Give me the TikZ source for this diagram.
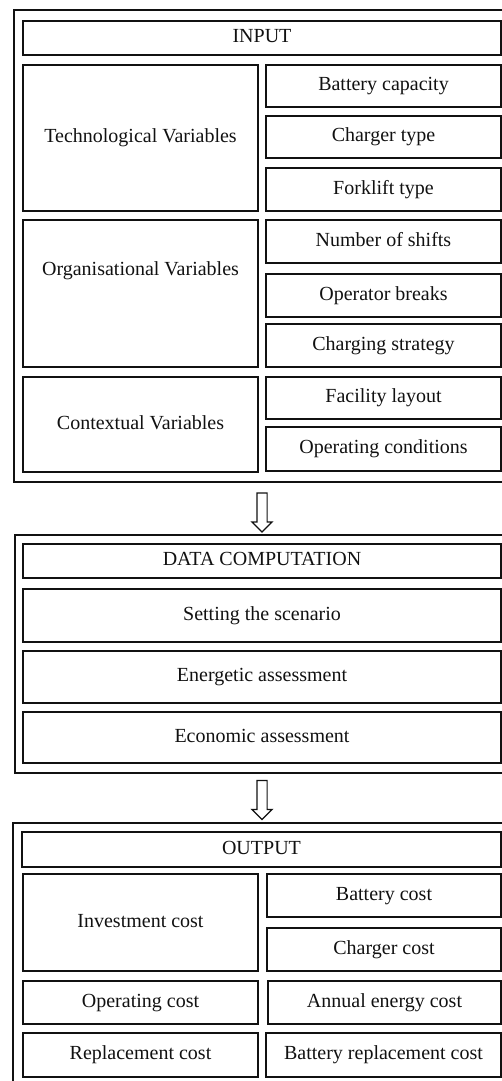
\documentclass[tikz,border=0pt]{standalone}
\usepackage{fontspec}
\setmainfont{Liberation Serif}
\usetikzlibrary{shapes.arrows}
\definecolor{ink}{HTML}{111111}

\tikzset{
  frame/.style={ink,line width=1.8pt},
  cell/.style={draw=ink,line width=1.6pt,inner sep=0pt,text=ink,
    font=\fontsize{20}{24}\selectfont,text height=14pt,text depth=4.5pt},
  downarrow/.style={draw=ink,line width=1.2pt,shape=single arrow,rotate=-90,
    minimum height=39pt,inner xsep=0pt,inner ysep=4.5pt,
    single arrow head extend=5pt,single arrow tip angle=90},
}

\begin{document}
\begin{tikzpicture}[x=1pt,y=-1pt]
  \useasboundingbox (0,0) rectangle (502,1081);
  \clip (0,0) rectangle (502,1081);
  \draw[frame] (14,10) rectangle (512,482);
  \draw[frame] (15,535) rectangle (512,773);
  \draw[frame] (13,823) rectangle (512,1092);
  \foreach \n/\xa/\ya/\xb/\yb/\t in {
      input/23/21/501/55/INPUT,
      tech/23/65/258/211/Technological Variables,
      capacity/266/65/501/107/Battery capacity,
      charger/266/116/501/158/Charger type,
      forklift/266/168/501/211/Forklift type,
      shifts/266/220/501/263/Number of shifts,
      breaks/266/274/501/317/Operator breaks,
      strategy/266/324/501/367/Charging strategy,
      context/23/377/258/472/Contextual Variables,
      layout/266/377/501/419/Facility layout,
      conditions/266/427/501/471/Operating conditions,
      data/23/544/501/578/DATA COMPUTATION,
      scenario/23/589/501/642/Setting the scenario,
      energy/23/651/501/703/Energetic assessment,
      economy/23/712/501/763/Economic assessment,
      output/22/832/501/867/OUTPUT,
      invest/23/874/258/971/Investment cost,
      batcost/267/874/501/917/Battery cost,
      chgcost/267/928/501/971/Charger cost,
      opcost/23/981/258/1024/Operating cost,
      annual/268/981/501/1024/Annual energy cost,
      repcost/23/1033/258/1077/Replacement cost,
      batrep/266/1033/501/1077/Battery replacement cost}
    \node[cell,minimum width={(\xb-\xa)*1pt},minimum height={(\yb-\ya)*1pt}]
      (\n) at ({(\xa+\xb)/2},{(\ya+\yb)/2}) {\t};
  \node[cell,minimum width=235pt,minimum height=147pt,text depth=50pt]
    (org) at (140.5,293.5) {Organisational Variables};
  \node[downarrow] (arr1) at (262,510) {};
  \node[downarrow] (arr2) at (262,797.5) {};
\end{tikzpicture}
\end{document}
